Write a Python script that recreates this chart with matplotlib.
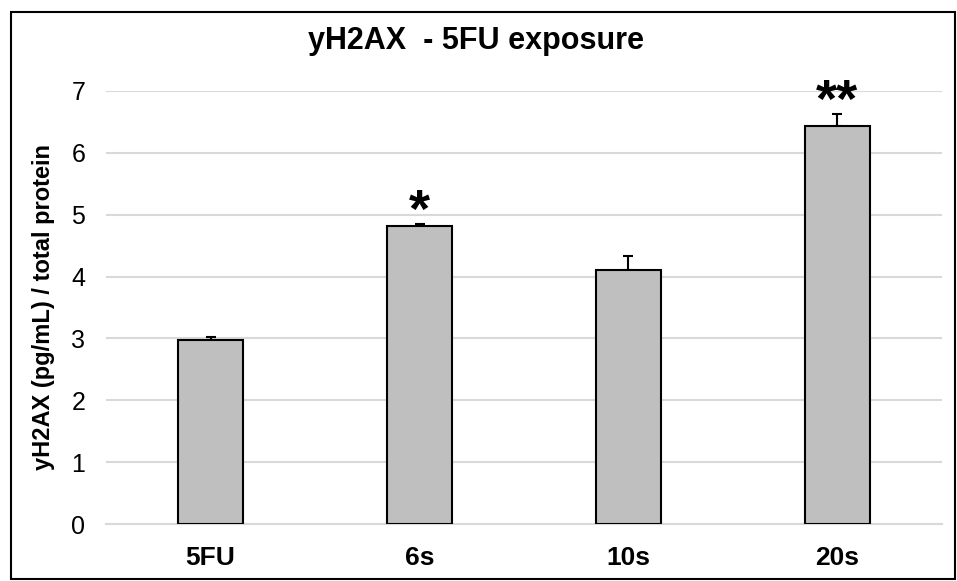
import numpy as np
import matplotlib.pyplot as plt
from matplotlib.patches import Rectangle

plt.rcParams['font.family'] = ['Liberation Sans', 'DejaVu Sans']

groups = ['5FU', '6s', '10s', '20s']
means = [2.97, 4.82, 4.10, 6.43]
errs = [0.06, 0.03, 0.24, 0.20]
stars = ['', '*', '', '**']

fig = plt.figure(figsize=(9.57, 5.81), dpi=100)
ax = fig.add_axes([0.1108, 0.098, 0.8735, 0.7455])

x = np.arange(len(groups))
ax.bar(x, means, width=0.315, color='#bfbfbf', edgecolor='black', linewidth=1.5, zorder=3)
ax.errorbar(x, means, yerr=[np.zeros(len(errs)), errs], fmt='none', ecolor='black',
            elinewidth=1.5, capsize=3.6, capthick=1.5, zorder=2)

for i in range(len(groups)):
    if stars[i]:
        ax.annotate(stars[i], (x[i], means[i] + errs[i]), xytext=(0, -10), textcoords='offset points',
                    ha='center', va='bottom', fontsize=39, fontweight='bold')

ax.set_xlim(-0.5, len(groups) - 0.5)
ax.set_ylim(0, 7)
ax.set_yticks(range(0, 8))
ax.yaxis.grid(True, color='#d9d9d9', linewidth=1.5, zorder=0)
ax.set_axisbelow(True)
for s in ['top', 'right', 'left']:
    ax.spines[s].set_visible(False)
ax.spines['bottom'].set_color('#d9d9d9')
ax.spines['bottom'].set_linewidth(1.5)
ax.tick_params(axis='both', length=0)
ax.tick_params(axis='y', pad=15, labelsize=18)
ax.tick_params(axis='x', pad=16, labelsize=19)
ax.set_xticks(x)
ax.set_xticklabels(groups, fontweight='bold')
ax.set_ylabel('yH2AX (pg/mL) / total protein', fontsize=17, fontweight='bold', labelpad=12)

fig.text(0.497, 0.929, 'yH2AX  - 5FU exposure', ha='center', va='center', fontsize=22, fontweight='bold')

# outer frame
fig.patches.append(Rectangle((0.011, 0.004), 0.987, 0.976, transform=fig.transFigure,
                             fill=False, edgecolor='black', linewidth=1.5))

fig.savefig('out.png', dpi=100)
